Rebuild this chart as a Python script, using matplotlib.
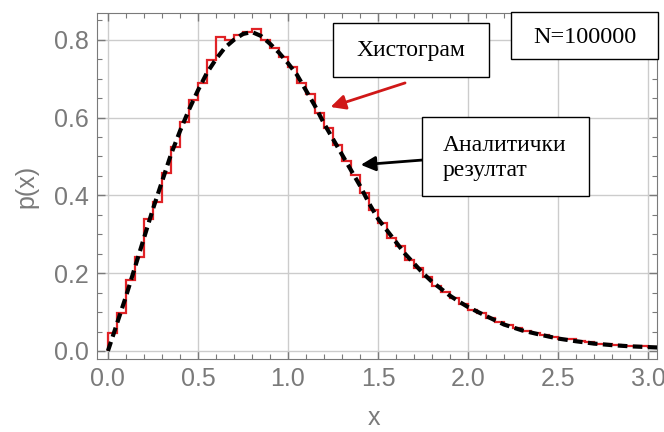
import numpy as np
import matplotlib
matplotlib.use("Agg")
import matplotlib.pyplot as plt
from matplotlib.patches import Rectangle
from matplotlib.ticker import MultipleLocator

# histogram: bin edges (width 0.05) and heights
bin_edges = [round(0.05 * i, 2) for i in range(63)]
hist_vals = [0.047, 0.098, 0.183, 0.242, 0.340, 0.383, 0.458, 0.525, 0.589, 0.646,
             0.690, 0.748, 0.808, 0.800, 0.812, 0.820, 0.828, 0.800, 0.780, 0.756,
             0.730, 0.690, 0.660, 0.612, 0.572, 0.530, 0.488, 0.452, 0.405, 0.362,
             0.330, 0.290, 0.270, 0.235, 0.213, 0.190, 0.168, 0.152, 0.135, 0.120,
             0.105, 0.098, 0.085, 0.075, 0.068, 0.058, 0.052, 0.046, 0.042, 0.036,
             0.032, 0.030, 0.026, 0.022, 0.019, 0.018, 0.015, 0.014, 0.012, 0.012,
             0.011, 0.010]

# analytic curve, points
curve_x = [0.0, 0.05, 0.1, 0.15, 0.2, 0.25, 0.3, 0.35, 0.4, 0.45, 0.5, 0.55, 0.6,
           0.65, 0.7, 0.75, 0.8, 0.85, 0.9, 0.95, 1.0, 1.05, 1.1, 1.15, 1.2, 1.25,
           1.3, 1.35, 1.4, 1.45, 1.5, 1.55, 1.6, 1.65, 1.7, 1.75, 1.8, 1.85, 1.9,
           1.95, 2.0, 2.1, 2.2, 2.3, 2.4, 2.5, 2.6, 2.7, 2.8, 2.9, 3.0, 3.1]
curve_y = [0.0, 0.07, 0.14, 0.215, 0.29, 0.365, 0.435, 0.505, 0.565, 0.62, 0.67,
           0.715, 0.75, 0.78, 0.80, 0.815, 0.82, 0.81, 0.79, 0.767, 0.74, 0.71,
           0.67, 0.63, 0.585, 0.545, 0.505, 0.465, 0.425, 0.38, 0.34, 0.31, 0.28,
           0.25, 0.225, 0.20, 0.178, 0.16, 0.142, 0.127, 0.113, 0.09, 0.068, 0.053,
           0.042, 0.032, 0.025, 0.019, 0.015, 0.012, 0.010, 0.008]

gray = "#7a7a7a"
sans = "Liberation Sans"
serif = "Liberation Serif"

fig = plt.figure(figsize=(6.64, 4.32), dpi=100)
ax = fig.add_axes([0.146, 0.169, 0.9895 - 0.146, 0.97 - 0.169])

ax.stairs(hist_vals, bin_edges, color="#e02226", lw=1.6, zorder=3)
ax.plot(curve_x, curve_y, color="black", lw=3, ls=(0, (2.3, 1.3)), zorder=4)

ax.set_xlim(-0.061, 3.05)
ax.set_ylim(-0.0206, 0.869)
ax.xaxis.set_major_locator(MultipleLocator(0.5))
ax.xaxis.set_minor_locator(MultipleLocator(0.1))
ax.yaxis.set_major_locator(MultipleLocator(0.2))
ax.yaxis.set_minor_locator(MultipleLocator(0.05))
ax.xaxis.set_major_formatter(lambda v, p: f"{v:.1f}")
ax.yaxis.set_major_formatter(lambda v, p: f"{v:.1f}")
ax.grid(True, which="major", color="#cccccc", lw=1)
ax.set_axisbelow(True)

ax.tick_params(which="both", direction="in", top=True, right=True, colors=gray,
               labelcolor=gray)
ax.tick_params(which="major", length=6, width=1, labelsize=18, pad=6)
ax.tick_params(which="minor", length=3.5, width=0.8)
for lab in ax.get_xticklabels() + ax.get_yticklabels():
    lab.set_fontfamily(sans)
for s in ax.spines.values():
    s.set_color(gray)

ax.set_xlabel("x", fontsize=18, color=gray, fontfamily=sans)
ax.set_ylabel("p(x)", fontsize=18, color=gray, fontfamily=sans)
ax.xaxis.set_label_coords(0.495, -0.135)
ax.yaxis.set_label_coords(-0.105, 0.5)

# text boxes
boxes = [(0.5015, 0.8218, 0.235, 0.125), (0.7696, 0.8634, 0.2214, 0.109),
         (0.6355, 0.5463, 0.2515, 0.183)]
for x0, y0, w, h in boxes:
    fig.patches.append(Rectangle((x0, y0), w, h, transform=fig.transFigure,
                                 facecolor="white", edgecolor="black", lw=1, zorder=10))
fig.text(0.619, 0.884, "Хистограм", fontsize=17, fontfamily=serif,
         ha="center", va="center", zorder=11)
fig.text(0.881, 0.914, "N=100000", fontsize=17.5, fontfamily=serif,
         ha="center", va="center", zorder=11)
fig.text(0.667, 0.635, "Аналитички\nрезултат", fontsize=17, fontfamily=serif,
         ha="left", va="center", linespacing=1.25, zorder=11)

ax.annotate("", xy=(1.222, 0.625), xytext=(0.614, 0.810), textcoords="figure fraction",
            arrowprops=dict(arrowstyle="-|>", color="#d01818", lw=2, mutation_scale=22),
            zorder=12)
ax.annotate("", xy=(1.389, 0.478), xytext=(0.640, 0.630), textcoords="figure fraction",
            arrowprops=dict(arrowstyle="-|>", color="black", lw=2, mutation_scale=22),
            zorder=12)

fig.savefig("out.png", dpi=100)
